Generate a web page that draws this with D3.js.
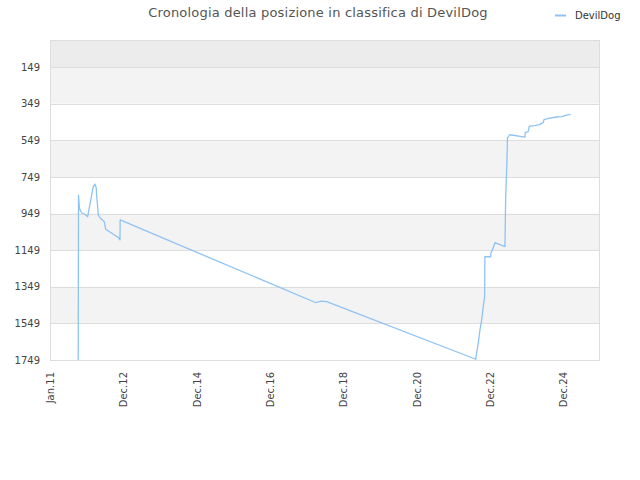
<!DOCTYPE html>
<html>
<head>
<meta charset="utf-8">
<script src="https://cdn.jsdelivr.net/npm/d3@7"></script>
<style>
  html, body { margin: 0; padding: 0; background: #fff; }
  svg { display: block; font-family: "DejaVu Sans", sans-serif; }
</style>
</head>
<body>
<svg id="chart" width="640" height="480"></svg>
<script>
const titleText = "Cronologia della posizione in classifica di DevilDog";
const seriesName = "DevilDog";

const dates = [
  "2011-10-09","2011-10-12","2011-10-21","2011-11-01","2011-11-15","2011-12-14",
  "2012-01-11","2012-03-07","2012-03-24","2012-04-06","2012-04-08","2012-04-26",
  "2012-05-13","2012-06-25","2012-07-09","2012-08-04","2012-09-23","2012-11-11",
  "2012-11-28","2012-11-30","2018-03-29","2018-05-30","2018-07-19","2022-08-13",
  "2022-08-20","2022-09-06","2022-09-23","2022-10-10","2022-10-26","2022-11-09",
  "2022-11-11","2023-01-08","2023-01-10","2023-01-21","2023-02-20","2023-05-30",
  "2023-06-06","2023-06-19","2023-06-24","2023-07-14","2023-08-05","2023-11-13",
  "2023-12-16","2023-12-18","2024-01-17","2024-01-27","2024-03-24","2024-05-13",
  "2024-06-15","2024-06-22","2024-08-04","2024-10-10","2024-12-15","2025-02-03",
  "2025-03-14"
];
const ranks = [
  1749, 848, 919, 935, 946, 953,
  966, 802, 788, 809, 837, 957,
  972, 994, 1035, 1044, 1062, 1079,
  1093, 984, 1435, 1428, 1430, 1745,
  1713, 1658, 1585, 1531, 1458, 1403,
  1185, 1185, 1166, 1152, 1108, 1130,
  875, 656, 538, 520, 520, 529,
  532, 507, 502, 471, 469, 462,
  451, 436, 429, 423, 420, 411,
  407
];

const yTicks = [149, 349, 549, 749, 949, 1149, 1349, 1549, 1749];
const xTickDates = ["2011-01-01","2013-01-01","2015-01-01","2017-01-01","2019-01-01","2021-01-01","2023-01-01","2025-01-01"];
const xTickLabels = ["Jan.11","Dec.12","Dec.14","Dec.16","Dec.18","Dec.20","Dec.22","Dec.24"];

const parse = d3.utcParse("%Y-%m-%d");
const data = dates.map((d, i) => ({ date: parse(d), rank: ranks[i] }));

const svg = d3.select("#chart");
const mLeft = 50, mRight = 600, mTop = 40, mBottom = 360;

const x = d3.scaleUtc()
  .domain([parse("2011-01-01"), parse("2026-01-01")])
  .range([mLeft, mRight]);
const y = d3.scaleLinear()
  .domain([1, 1749])
  .range([mTop, mBottom]);

// background bands
const bandEdges = [1].concat(yTicks);
for (let i = 0; i < bandEdges.length - 1; i++) {
  const y0 = y(bandEdges[i]), y1 = y(bandEdges[i + 1]);
  let fill;
  if (i === 0) fill = "#ececec";
  else fill = (i % 2 === 1) ? "#f3f3f3" : "#ffffff";
  svg.append("rect")
    .attr("x", mLeft).attr("y", y0)
    .attr("width", mRight - mLeft).attr("height", y1 - y0)
    .attr("fill", fill);
}

// gridlines
svg.append("g")
  .selectAll("line")
  .data(yTicks)
  .join("line")
  .attr("x1", mLeft).attr("x2", mRight)
  .attr("y1", d => Math.round(y(d)) + 0.5)
  .attr("y2", d => Math.round(y(d)) + 0.5)
  .attr("stroke", "#dddddd")
  .attr("stroke-width", 1);

// frame
svg.append("rect")
  .attr("x", mLeft + 0.5).attr("y", mTop + 0.5)
  .attr("width", mRight - mLeft - 1).attr("height", mBottom - mTop)
  .attr("fill", "none")
  .attr("stroke", "#dddddd");

// y axis
const yAxis = d3.axisLeft(y).tickValues(yTicks).tickSize(0).tickPadding(10).tickFormat(d3.format("d"));
const gy = svg.append("g").attr("transform", `translate(${mLeft},0)`).call(yAxis);
gy.select(".domain").remove();
gy.selectAll("text")
  .attr("fill", "#444")
  .style("font-size", "10px")
  .style("font-family", "DejaVu Sans, sans-serif");

// x axis
const xAxis = d3.axisBottom(x)
  .tickValues(xTickDates.map(parse))
  .tickSize(0)
  .tickFormat((d, i) => xTickLabels[i]);
const gx = svg.append("g").attr("transform", `translate(0,${mBottom})`).call(xAxis);
gx.select(".domain").remove();
gx.selectAll("text")
  .attr("fill", "#444")
  .style("font-size", "10px")
  .style("font-family", "DejaVu Sans, sans-serif")
  .attr("text-anchor", "end")
  .attr("dy", "0.35em")
  .attr("dx", 0)
  .attr("y", 0)
  .attr("transform", "translate(0,12) rotate(-90)")
  .attr("x", 0);

// line
const line = d3.line()
  .x(d => x(d.date))
  .y(d => y(d.rank));
svg.append("path")
  .datum(data)
  .attr("d", line)
  .attr("fill", "none")
  .attr("stroke", "#8ec3f5")
  .attr("stroke-width", 1.3)
  .attr("stroke-linejoin", "round");

// title
svg.append("text")
  .attr("x", 318).attr("y", 17)
  .attr("text-anchor", "middle")
  .attr("fill", "#555")
  .style("font-size", "13px")
  .style("letter-spacing", "0.2px")
  .style("font-family", "DejaVu Sans, sans-serif")
  .text(titleText);

// legend
svg.append("line")
  .attr("x1", 555).attr("x2", 566)
  .attr("y1", 15.5).attr("y2", 15.5)
  .attr("stroke", "#8ec3f5")
  .attr("stroke-width", 2);
svg.append("text")
  .attr("x", 575).attr("y", 19)
  .attr("fill", "#333")
  .style("font-size", "10px")
  .style("font-family", "DejaVu Sans, sans-serif")
  .text(seriesName);
</script>
</body>
</html>
